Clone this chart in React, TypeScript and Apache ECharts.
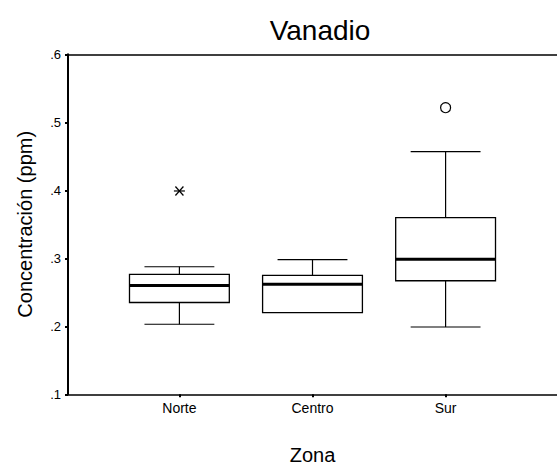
import React, { useEffect, useRef } from "react";
import * as echarts from "echarts";

// Zones along the horizontal axis
const zones = ["Norte", "Centro", "Sur"];

// Box-plot statistics per zone (ppm)
const whiskerLow = [0.203, 0.22, 0.199];
const quartile1 = [0.235, 0.22, 0.267];
const medians = [0.26, 0.262, 0.2985];
const quartile3 = [0.2765, 0.275, 0.3597];
const whiskerHigh = [0.2876, 0.298, 0.4568];

// Extreme values (asterisk) and outliers (circle): [zone index (1-based), value]
const extremes: number[][] = [[1, 0.399]];
const outliers: number[][] = [[3, 0.5215]];

// Y axis ticks
const yTicks = [0.1, 0.2, 0.3, 0.4, 0.5, 0.6];

const FONT = "'Liberation Sans', Arial, Helvetica, sans-serif";

export default function App() {
  const ref = useRef<HTMLDivElement>(null);

  useEffect(() => {
    if (!ref.current) return;
    const chart = echarts.init(ref.current, null, { renderer: "svg" });

    const boxData = zones.map((_, i) => [
      i + 1,
      whiskerLow[i],
      quartile1[i],
      medians[i],
      quartile3[i],
      whiskerHigh[i],
    ]);

    const xMin = 0.163;
    const xMax = 3.837;

    const renderBox = (params: any, api: any) => {
      const x = api.value(0);
      const lo = api.coord([x, api.value(1)]);
      const q1 = api.coord([x, api.value(2)]);
      const md = api.coord([x, api.value(3)]);
      const q3 = api.coord([x, api.value(4)]);
      const hi = api.coord([x, api.value(5)]);
      const boxW = api.size([0.75, 0])[0];
      const capW = api.size([0.525, 0])[0];
      const cx = md[0];
      const line = { stroke: "#000", lineWidth: 1.2 };
      const children: any[] = [];
      // whiskers
      if (hi[1] < q3[1] - 0.5) {
        children.push({ type: "line", shape: { x1: cx, y1: hi[1], x2: cx, y2: q3[1] }, style: line });
        children.push({ type: "line", shape: { x1: cx - capW / 2, y1: hi[1], x2: cx + capW / 2, y2: hi[1] }, style: line });
      }
      if (lo[1] > q1[1] + 0.5) {
        children.push({ type: "line", shape: { x1: cx, y1: q1[1], x2: cx, y2: lo[1] }, style: line });
        children.push({ type: "line", shape: { x1: cx - capW / 2, y1: lo[1], x2: cx + capW / 2, y2: lo[1] }, style: line });
      }
      // box
      children.push({
        type: "rect",
        shape: { x: cx - boxW / 2, y: q3[1], width: boxW, height: q1[1] - q3[1] },
        style: { fill: "#fff", stroke: "#000", lineWidth: 1.3 },
      });
      // median
      children.push({
        type: "line",
        shape: { x1: cx - boxW / 2, y1: md[1], x2: cx + boxW / 2, y2: md[1] },
        style: { stroke: "#000", lineWidth: 3 },
      });
      return { type: "group", children };
    };

    const renderAsterisk = (params: any, api: any) => {
      const p = api.coord([api.value(0), api.value(1)]);
      const r = 5.5;
      const dx = 4;
      const dy = 4.5;
      const st = { stroke: "#000", lineWidth: 1.2 };
      return {
        type: "group",
        children: [
          { type: "line", shape: { x1: p[0] - r, y1: p[1], x2: p[0] + r, y2: p[1] }, style: st },
          { type: "line", shape: { x1: p[0] - dx, y1: p[1] - dy, x2: p[0] + dx, y2: p[1] + dy }, style: st },
          { type: "line", shape: { x1: p[0] - dx, y1: p[1] + dy, x2: p[0] + dx, y2: p[1] - dy }, style: st },
        ],
      };
    };

    const renderCircle = (params: any, api: any) => {
      const p = api.coord([api.value(0), api.value(1)]);
      return {
        type: "circle",
        shape: { cx: p[0], cy: p[1], r: 5 },
        style: { fill: "#fff", stroke: "#000", lineWidth: 1.2 },
      };
    };

    chart.setOption({
      animation: false,
      backgroundColor: "#fff",
      title: {
        text: "Vanadio",
        left: 315,
        top: 11,
        textAlign: "center",
        textStyle: { fontFamily: FONT, fontSize: 28, fontWeight: "normal", color: "#000" },
      },
      grid: { left: 68, top: 54.3, bottom: 76.7, right: -3, containLabel: false },
      xAxis: [
        {
          type: "value",
          min: xMin,
          max: xMax,
          position: "bottom",
          name: "Zona",
          nameLocation: "middle",
          nameGap: 51,
          nameTextStyle: { fontFamily: FONT, fontSize: 20, color: "#000" },
          axisLine: { show: true, lineStyle: { color: "#000", width: 1.5 } },
          axisTick: { show: true, length: 3, customValues: [1, 2, 3], lineStyle: { color: "#000", width: 2 } },
          axisLabel: {
            customValues: [1, 2, 3],
            formatter: (v: number) => zones[Math.round(v) - 1] ?? "",
            fontFamily: FONT,
            fontSize: 14,
            color: "#000",
            margin: 7,
          },
          splitLine: { show: false },
        },
        {
          type: "value",
          min: xMin,
          max: xMax,
          position: "top",
          axisLine: { show: true, lineStyle: { color: "#000", width: 1.5 } },
          axisTick: { show: false },
          axisLabel: { show: false },
          splitLine: { show: false },
        },
      ],
      yAxis: {
        type: "value",
        min: yTicks[0],
        max: yTicks[yTicks.length - 1],
        interval: 0.1,
        name: "Concentración (ppm)",
        nameLocation: "middle",
        nameRotate: 90,
        nameGap: 33,
        nameTextStyle: { fontFamily: FONT, fontSize: 20, color: "#000" },
        axisLine: { show: true, lineStyle: { color: "#000", width: 2 } },
        axisTick: { show: true, length: 3, lineStyle: { color: "#000", width: 2 } },
        axisLabel: {
          formatter: (v: number) => v.toFixed(1).replace(/^0/, ""),
          fontFamily: FONT,
          fontSize: 13,
          color: "#000",
          margin: 7,
        },
        splitLine: { show: false },
      },
      series: [
        {
          type: "custom",
          name: "box",
          xAxisIndex: 0,
          renderItem: renderBox,
          encode: { x: 0, y: [1, 2, 3, 4, 5] },
          data: boxData,
          z: 2,
        },
        {
          type: "custom",
          name: "extremos",
          xAxisIndex: 0,
          renderItem: renderAsterisk,
          encode: { x: 0, y: 1 },
          data: extremes,
          z: 3,
        },
        {
          type: "custom",
          name: "atípicos",
          xAxisIndex: 0,
          renderItem: renderCircle,
          encode: { x: 0, y: 1 },
          data: outliers,
          z: 3,
        },
      ],
    });

    return () => chart.dispose();
  }, []);

  return (
    <div
      ref={ref}
      style={{ position: "absolute", left: 0, top: 0, width: 557, height: 471 }}
    />
  );
}
